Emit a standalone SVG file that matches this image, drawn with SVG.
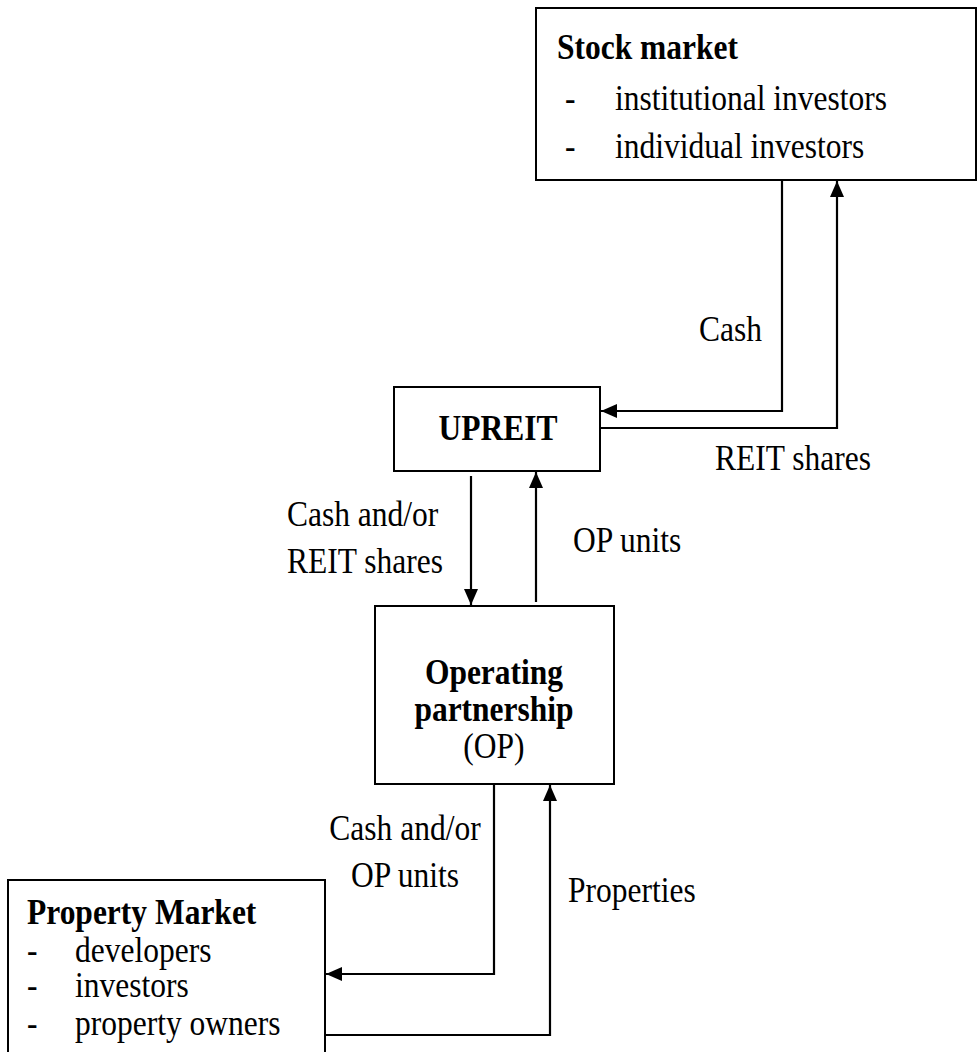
<svg xmlns="http://www.w3.org/2000/svg" width="978" height="1052" viewBox="0 0 978 1052">
<style>
  .box{fill:#fff;stroke:#000;stroke-width:2}
  text{font-family:"Liberation Serif","Times New Roman",serif;font-size:35px;fill:#000}
  .b{font-weight:bold}
  .m{text-anchor:middle}
  .c{fill:none;stroke:#000;stroke-width:2.2}
</style>
<defs>
  <marker id="arr" markerUnits="userSpaceOnUse" markerWidth="18" markerHeight="16" refX="16" refY="7" orient="auto">
    <path d="M0,0 L16,7 L0,14 Z" fill="#000"/>
  </marker>
</defs>
<g id="stock-market">
  <rect class="box" x="536" y="8" width="440" height="172"/>
  <text class="b" x="557" y="59" transform="matrix(0.9 0 0 1 55.7 0)">Stock market</text>
  <text x="565" y="110" transform="matrix(0.9 0 0 1 56.5 0)">-</text>
  <text x="615" y="110" transform="matrix(0.9 0 0 1 61.5 0)">institutional investors</text>
  <text x="565" y="158" transform="matrix(0.9 0 0 1 56.5 0)">-</text>
  <text x="615" y="158" transform="matrix(0.9 0 0 1 61.5 0)">individual investors</text>
</g>
<g id="upreit">
  <rect class="box" x="394" y="387" width="206" height="84"/>
  <text class="b m" x="498" y="440" transform="matrix(0.9 0 0 1 49.8 0)">UPREIT</text>
</g>
<g id="operating-partnership">
  <rect class="box" x="375" y="606" width="239" height="178"/>
  <text class="b m" x="494" y="684" transform="matrix(0.9 0 0 1 49.4 0)">Operating</text>
  <text class="b m" x="494" y="721" transform="matrix(0.9 0 0 1 49.4 0)">partnership</text>
  <text class="m" x="494" y="758" transform="matrix(0.9 0 0 1 49.4 0)">(OP)</text>
</g>
<g id="property-market">
  <rect class="box" x="8" y="880" width="317" height="190"/>
  <text class="b" x="27" y="924" transform="matrix(0.9 0 0 1 2.7 0)">Property Market</text>
  <text x="27" y="962" transform="matrix(0.9 0 0 1 2.7 0)">-</text>
  <text x="75" y="962" transform="matrix(0.9 0 0 1 7.5 0)">developers</text>
  <text x="27" y="997" transform="matrix(0.9 0 0 1 2.7 0)">-</text>
  <text x="75" y="997" transform="matrix(0.9 0 0 1 7.5 0)">investors</text>
  <text x="27" y="1035" transform="matrix(0.9 0 0 1 2.7 0)">-</text>
  <text x="75" y="1035" transform="matrix(0.9 0 0 1 7.5 0)">property owners</text>
</g>
<g id="connectors">
  <path class="c" d="M782,180 V411 H601" marker-end="url(#arr)"/>
  <path class="c" d="M601,428 H837 V181" marker-end="url(#arr)"/>
  <path class="c" d="M471,476 V605" marker-end="url(#arr)"/>
  <path class="c" d="M536,602 V472" marker-end="url(#arr)"/>
  <path class="c" d="M494,785 V974 H326" marker-end="url(#arr)"/>
  <path class="c" d="M326,1035 H550 V785" marker-end="url(#arr)"/>
</g>
<g id="labels">
  <text x="699" y="341" transform="matrix(0.9 0 0 1 69.9 0)">Cash</text>
  <text x="715" y="470" transform="matrix(0.9 0 0 1 71.5 0)">REIT shares</text>
  <text x="287" y="526" transform="matrix(0.9 0 0 1 28.7 0)">Cash and/or</text>
  <text x="287" y="573" transform="matrix(0.9 0 0 1 28.7 0)">REIT shares</text>
  <text x="573" y="552" transform="matrix(0.9 0 0 1 57.3 0)">OP units</text>
  <text class="m" x="405" y="840" transform="matrix(0.9 0 0 1 40.5 0)">Cash and/or</text>
  <text class="m" x="405" y="887" transform="matrix(0.9 0 0 1 40.5 0)">OP units</text>
  <text x="568" y="902" transform="matrix(0.9 0 0 1 56.8 0)">Properties</text>
</g>
</svg>
